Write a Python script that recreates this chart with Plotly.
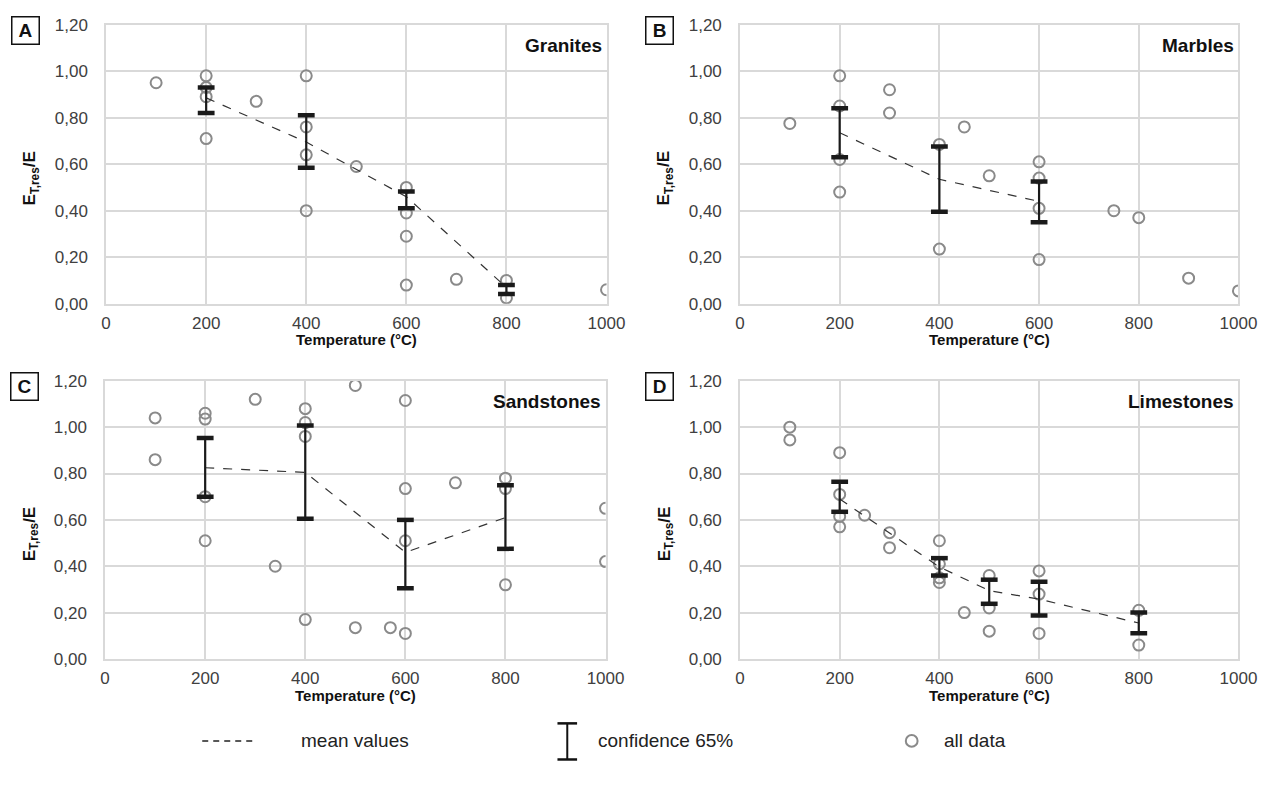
import plotly.graph_objects as go

W, H = 1282, 789

# ---------------- data ----------------
temp_ticks = [0, 200, 400, 600, 800, 1000]
y_tickvals = [0.0, 0.2, 0.4, 0.6, 0.8, 1.0, 1.2]
y_ticktext = ["0,00", "0,20", "0,40", "0,60", "0,80", "1,00", "1,20"]

# Granites
gra_x = [100, 200, 200, 200, 200, 300, 400, 400, 400, 400, 500, 600, 600, 600, 600, 700, 800, 800, 1000]
gra_y = [0.95, 0.98, 0.93, 0.89, 0.71, 0.87, 0.98, 0.76, 0.64, 0.40, 0.59, 0.50, 0.39, 0.29, 0.08, 0.105, 0.10, 0.025, 0.06]
gra_mean_x = [200, 400, 600, 800]
gra_mean_y = [0.885, 0.695, 0.46, 0.07]
gra_lo = [0.82, 0.585, 0.41, 0.042]
gra_hi = [0.93, 0.81, 0.482, 0.08]

# Marbles
mar_x = [100, 200, 200, 200, 200, 300, 300, 400, 400, 450, 500, 600, 600, 600, 600, 750, 800, 900, 1000]
mar_y = [0.775, 0.98, 0.85, 0.62, 0.48, 0.92, 0.82, 0.685, 0.235, 0.76, 0.55, 0.61, 0.54, 0.41, 0.19, 0.40, 0.37, 0.11, 0.055]
mar_mean_x = [200, 400, 600]
mar_mean_y = [0.735, 0.535, 0.44]
mar_lo = [0.63, 0.395, 0.35]
mar_hi = [0.84, 0.676, 0.525]

# Sandstones
san_x = [100, 100, 200, 200, 200, 200, 300, 340, 400, 400, 400, 400, 500, 500, 570, 600, 600, 600, 600, 700, 800, 800, 800, 1000, 1000]
san_y = [1.04, 0.86, 1.06, 1.035, 0.70, 0.51, 1.12, 0.40, 1.08, 1.02, 0.96, 0.17, 1.18, 0.135, 0.135, 1.115, 0.735, 0.51, 0.11, 0.76, 0.78, 0.735, 0.32, 0.65, 0.42]
san_mean_x = [200, 400, 600, 800]
san_mean_y = [0.825, 0.805, 0.46, 0.61]
san_lo = [0.70, 0.605, 0.305, 0.475]
san_hi = [0.953, 1.007, 0.60, 0.75]

# Limestones
lim_x = [100, 100, 200, 200, 200, 200, 250, 300, 300, 400, 400, 400, 400, 450, 500, 500, 500, 600, 600, 600, 800, 800]
lim_y = [1.00, 0.945, 0.89, 0.71, 0.615, 0.57, 0.62, 0.545, 0.48, 0.51, 0.41, 0.35, 0.33, 0.20, 0.36, 0.22, 0.12, 0.38, 0.28, 0.11, 0.21, 0.06]
lim_mean_x = [200, 400, 500, 600, 800]
lim_mean_y = [0.69, 0.397, 0.295, 0.258, 0.155]
lim_lo = [0.635, 0.36, 0.238, 0.187, 0.111]
lim_hi = [0.765, 0.435, 0.342, 0.333, 0.20]

panel_names = ["Granites", "Marbles", "Sandstones", "Limestones"]
panel_letters = ["A", "B", "C", "D"]
legend_labels = ["mean values", "confidence 65%", "all data"]
x_title = "Temperature (°C)"

panels = [
    (gra_x, gra_y, gra_mean_x, gra_mean_y, gra_lo, gra_hi),
    (mar_x, mar_y, mar_mean_x, mar_mean_y, mar_lo, mar_hi),
    (san_x, san_y, san_mean_x, san_mean_y, san_lo, san_hi),
    (lim_x, lim_y, lim_mean_x, lim_mean_y, lim_lo, lim_hi),
]

# ---------------- layout helpers ----------------
def px(x):
    return x / W

def py(y):
    return 1 - y / H

# plot-area pixel boxes (left, right, top, bottom)
boxes = [
    (103, 613, 16, 302),
    (749, 1257, 16, 302),
    (102, 612, 381, 666),
    (749, 1257, 381, 666),
]

FONT = "Liberation Sans, Arial, sans-serif"
GRID = "#d9d9d9"
CIRCLE = "#8a8a8a"
DARK = "#1a1a1a"

fig = go.Figure()
annotations = []
shapes = []

for i, (xs, ys, mx, my, lo, hi) in enumerate(panels):
    n = i + 1
    xa = "x" if n == 1 else f"x{n}"
    ya = "y" if n == 1 else f"y{n}"
    # all data
    fig.add_trace(go.Scatter(
        x=xs, y=ys, mode="markers", xaxis=xa, yaxis=ya, showlegend=False,
        marker=dict(symbol="circle-open", size=11, color=CIRCLE, line=dict(width=2, color=CIRCLE)),
        hoverinfo="x+y"))
    # mean line
    fig.add_trace(go.Scatter(
        x=mx, y=my, mode="lines", xaxis=xa, yaxis=ya, showlegend=False,
        line=dict(color="#333333", width=1.2, dash="dash")))
    # confidence stems
    fig.add_trace(go.Scatter(
        x=mx, y=my, mode="markers", xaxis=xa, yaxis=ya, showlegend=False,
        marker=dict(size=1, color="rgba(0,0,0,0)"),
        error_y=dict(type="data", symmetric=False,
                     array=[h - m for h, m in zip(hi, my)],
                     arrayminus=[m - l for m, l in zip(my, lo)],
                     color=DARK, thickness=2.2, width=0)))
    # caps
    fig.add_trace(go.Scatter(
        x=mx + mx, y=hi + lo, mode="markers", xaxis=xa, yaxis=ya, showlegend=False,
        marker=dict(symbol="line-ew", size=12, color=DARK, line=dict(width=4.5, color=DARK))))

    l, r, t, b = boxes[i]
    axis_common = dict(showgrid=True, gridcolor=GRID, gridwidth=1.5,
                       showline=True, linecolor=GRID, linewidth=1.5, mirror=True,
                       zeroline=False, ticks="", fixedrange=True)
    fig.layout[f"xaxis{'' if n == 1 else n}"] = dict(
        domain=[px(l), px(r)], anchor=ya, range=[0, 1000], tickvals=temp_ticks,
        tickfont=dict(family=FONT, size=17, color="#404040"), ticklabelstandoff=3,
        **axis_common)
    fig.layout[f"yaxis{'' if n == 1 else n}"] = dict(
        domain=[py(b), py(t)], anchor=xa, range=[0, 1.2], tickvals=y_tickvals, ticktext=y_ticktext,
        tickfont=dict(family=FONT, size=17, color="#404040"), ticklabelstandoff=13,
        **axis_common)

    # x-axis title
    annotations.append(dict(
        x=(l + r) / 2 / W, y=py(b + 37), xref="paper", yref="paper", xanchor="center", yanchor="middle",
        text=f"<b>{x_title}</b>", showarrow=False,
        font=dict(family=FONT, size=15, color="#111")))
    # panel title
    annotations.append(dict(
        x=995, y=1.11, xref=xa, yref=ya, xanchor="right", yanchor="middle",
        text=f"<b>{panel_names[i]}</b>", showarrow=False,
        font=dict(family=FONT, size=19, color="#111")))
    # y-axis title
    annotations.append(dict(
        x=px(l - 76), y=0.54, xref="paper", yref=ya, xanchor="center", yanchor="middle",
        textangle=-90, text="<b>E<sub>T,res</sub>/E</b>", showarrow=False,
        font=dict(family=FONT, size=17, color="#111")))
    # panel letter
    annotations.append(dict(
        x=px(l - 82), y=py(t + 6), xref="paper", yref="paper", xanchor="center", yanchor="middle",
        text=f"<b>{panel_letters[i]}</b>", showarrow=False, width=24, height=24,
        bordercolor="#111", borderwidth=1.5, borderpad=1, bgcolor="white",
        font=dict(family=FONT, size=19, color="#111")))

# ---------------- custom legend ----------------
LY = 750
shapes.append(dict(type="line", xref="paper", yref="paper", x0=px(201), x1=px(252), y0=py(LY), y1=py(LY),
                   line=dict(color="#222", width=1.5, dash="6px,5px")))
annotations.append(dict(x=px(300), y=py(LY), xref="paper", yref="paper", xanchor="left", yanchor="middle",
                        text=legend_labels[0], showarrow=False, font=dict(family=FONT, size=19, color="#222")))
shapes.append(dict(type="line", xref="paper", yref="paper", x0=px(573), x1=px(573), y0=py(LY - 18), y1=py(LY + 19),
                   line=dict(color="#111", width=2)))
shapes.append(dict(type="line", xref="paper", yref="paper", x0=px(563), x1=px(583), y0=py(LY - 18), y1=py(LY - 18),
                   line=dict(color="#111", width=2.5)))
shapes.append(dict(type="line", xref="paper", yref="paper", x0=px(563), x1=px(583), y0=py(LY + 19), y1=py(LY + 19),
                   line=dict(color="#111", width=2.5)))
annotations.append(dict(x=px(602), y=py(LY), xref="paper", yref="paper", xanchor="left", yanchor="middle",
                        text=legend_labels[1], showarrow=False, font=dict(family=FONT, size=19, color="#222")))
shapes.append(dict(type="circle", xref="paper", yref="paper", x0=px(918), x1=px(930), y0=py(LY - 6), y1=py(LY + 6),
                   line=dict(color=CIRCLE, width=2)))
annotations.append(dict(x=px(955), y=py(LY), xref="paper", yref="paper", xanchor="left", yanchor="middle",
                        text=legend_labels[2], showarrow=False, font=dict(family=FONT, size=19, color="#222")))

fig.update_layout(
    width=W, height=H, margin=dict(l=0, r=0, t=0, b=0),
    paper_bgcolor="white", plot_bgcolor="white",
    showlegend=False, annotations=annotations, shapes=shapes,
    font=dict(family=FONT),
)

fig.write_html("out.html")
